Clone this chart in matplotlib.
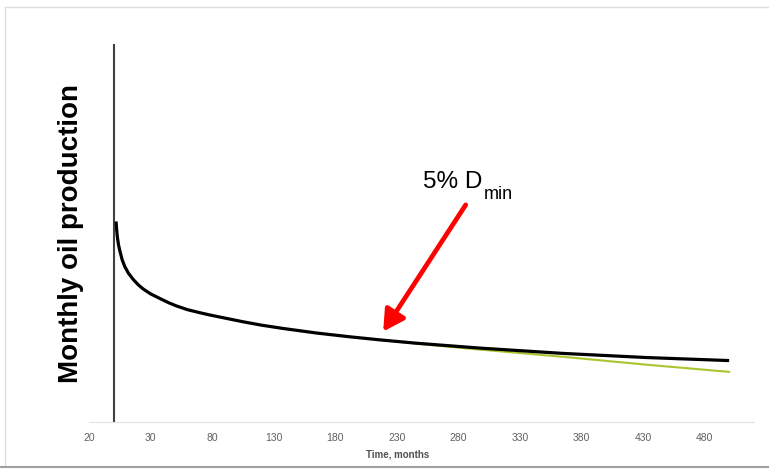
import numpy as np
import matplotlib.pyplot as plt

# Hyperbolic decline, then switch to exponential at the minimum decline rate
months = [2, 2.5, 3, 4, 5, 7, 9, 12, 16, 20, 24, 30, 38, 45, 51, 60, 70, 78,
          90, 105, 120, 138, 165, 192, 216, 246, 274, 298, 365, 433, 500]
oil_rate = [532, 510, 492, 470, 455, 430, 413, 395, 378, 364, 353, 340, 327,
            316, 308, 298, 290, 284, 276, 266, 257, 248, 236, 226, 218, 209,
            202, 196, 182, 171, 163]

# Exponential tail once the 5% minimum decline is reached
exp_months = [216, 246, 274, 298, 365, 433, 500]
exp_rate = [218, 208, 199, 192, 173, 152, 133]

tick_pos = [-20, 30, 80, 130, 180, 230, 280, 330, 380, 430, 480]
tick_labels = ["20", "30", "80", "130", "180", "230", "280", "330", "380", "430", "480"]

switch_point = (219, 240)

fig = plt.figure(figsize=(7.69, 4.71), dpi=100)
ax = fig.add_axes([0.1157, 0.104, 0.8645, 0.8004])

ax.plot(exp_months, exp_rate, color="#a8c62e", lw=1.5, zorder=2)
ax.plot(months, oil_rate, color="black", lw=2.3, zorder=3,
        solid_capstyle="butt", solid_joinstyle="round")

ax.set_xlim(-20, 520)
ax.set_ylim(0, 1000)

ax.spines["left"].set_position(("data", 0))
ax.spines["left"].set_color("#404040")
ax.spines["left"].set_linewidth(1.5)
ax.spines["bottom"].set_color("#e4e4e4")
ax.spines["bottom"].set_linewidth(0.8)
ax.spines["top"].set_visible(False)
ax.spines["right"].set_visible(False)

ax.set_yticks([])
ax.set_xticks(tick_pos)
ax.set_xticklabels(tick_labels, fontsize=7.5, color="#606060",
                   family="Liberation Sans")
ax.tick_params(axis="x", length=0, pad=8)

ax.text(0.465, -0.087, "Time, months", transform=ax.transAxes, ha="center",
        va="center", fontsize=7, fontweight="bold", color="#505050",
        family="Liberation Sans")

fig.text(0.092, 0.505, "Monthly oil production", rotation=90, ha="center",
         va="center", fontsize=20, fontweight="bold", color="black",
         family="Liberation Sans")

ax.annotate("", xy=switch_point, xytext=(286, 576),
            arrowprops=dict(arrowstyle="-|>,head_length=0.9,head_width=0.5",
                            color="#ff0000", lw=3.4, shrinkA=0, shrinkB=0,
                            mutation_scale=14),
            zorder=4)
label = ax.text(251.5, 620, "5% D", fontsize=17.5, family="Liberation Sans",
                color="black", ha="left", va="baseline")
ax.annotate("min", xy=(1, 0), xycoords=label, xytext=(1, -4),
            textcoords="offset points", fontsize=13, family="Liberation Sans",
            color="black", ha="left", va="baseline")

# slide frame
fig.add_artist(plt.Line2D([0.007, 1], [0.985, 0.985], color="#dddddd", lw=1))
fig.add_artist(plt.Line2D([0.007, 0.007], [0.008, 0.985], color="#dddddd", lw=1))
fig.add_artist(plt.Line2D([0, 1], [0.008, 0.008], color="#a0a0a0", lw=1.5))

fig.savefig("out.png", dpi=100)
